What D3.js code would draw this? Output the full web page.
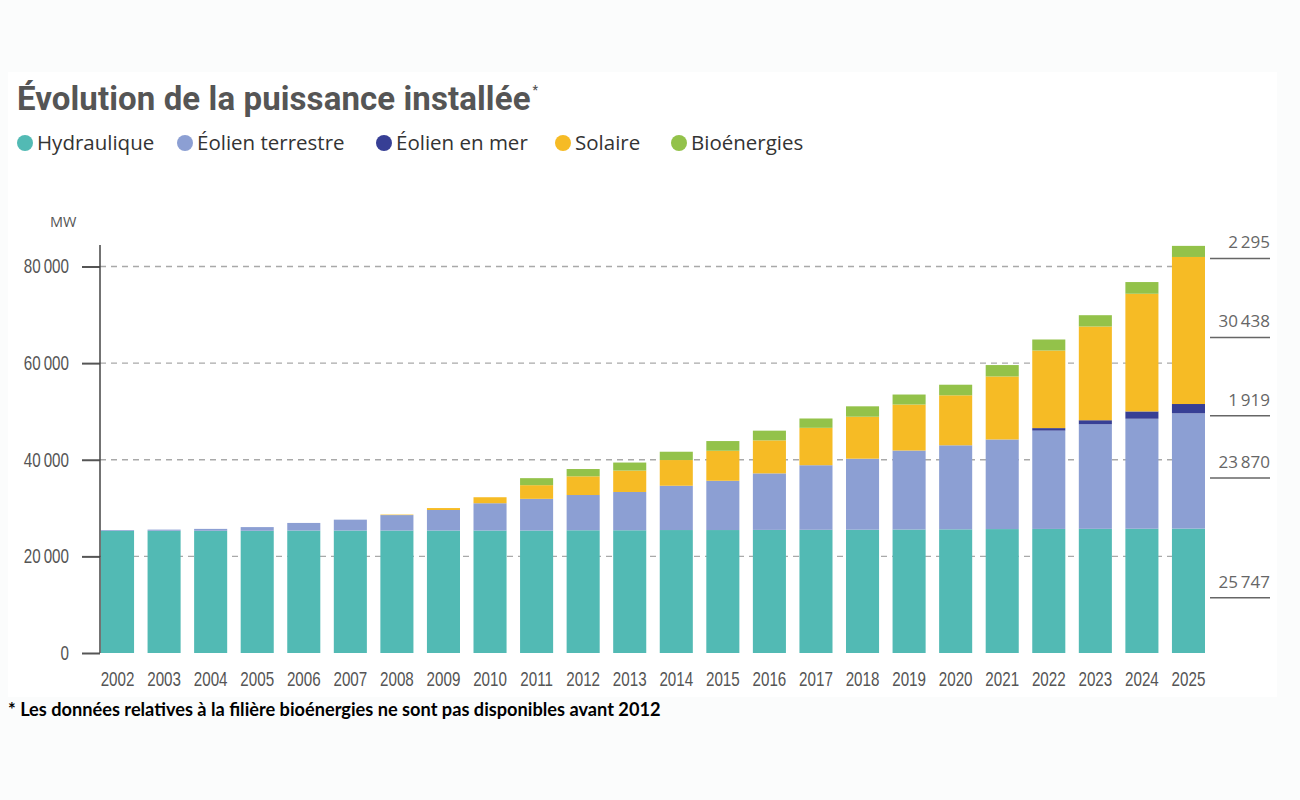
<!DOCTYPE html>
<html><head><meta charset="utf-8">
<script src="https://cdn.jsdelivr.net/npm/d3@7"></script>
<style>
body{margin:0;background:#fbfcfc;}
svg{display:block;}
</style></head>
<body>
<svg id="chart" width="1300" height="800"></svg>
<script>
const years = ["2002","2003","2004","2005","2006","2007","2008","2009","2010","2011","2012","2013","2014","2015","2016","2017","2018","2019","2020","2021","2022","2023","2024","2025"];
const hydraulique = [25300,25300,25300,25300,25350,25350,25350,25350,25350,25350,25400,25400,25450,25450,25480,25500,25520,25560,25600,25650,25680,25700,25720,25747];
const eolienTerrestre = [150,240,390,760,1570,2250,3200,4250,5650,6560,7300,7930,9170,10200,11700,13370,14700,16350,17390,18550,20350,21650,22770,23870];
const eolienMer = [0,0,0,0,0,0,0,0,0,0,0,0,0,0,0,0,0,0,0,0,520,830,1510,1919];
const solaire = [0,0,0,0,0,0,100,400,1240,2830,3870,4430,5320,6210,6830,7740,8690,9520,10350,13040,16060,19400,24360,30438];
const bioenergies = [0,0,0,0,0,0,0,0,0,1450,1510,1660,1720,2010,2010,1930,2150,2070,2190,2360,2280,2340,2420,2295];
const seriesNames = ["Hydraulique","Éolien terrestre","Éolien en mer","Solaire","Bioénergies"];
const seriesKeys = ["hydro","onshore","offshore","solar","bio"];
const seriesColors = ["#52bab4","#8c9fd3","#373f95","#f6bb25","#93c24a"];
const yTicks = [0,20000,40000,60000,80000];

const rows = years.map((y,i)=>({year:y,hydro:hydraulique[i],onshore:eolienTerrestre[i],offshore:eolienMer[i],solar:solaire[i],bio:bioenergies[i]}));
const stack = d3.stack().keys(seriesKeys)(rows);

const svg = d3.select("#chart");
const fmt = v => d3.format(",")(v).replace(/,/g,"\u2009");
const SX = 0.76; // horizontal compression for condensed tick labels

// panel
svg.append("rect").attr("x",8).attr("y",72).attr("width",1269).attr("height",625).attr("fill","#ffffff");

const x = d3.scaleBand().domain(years).range([101,1205]).paddingInner(0.29).paddingOuter(0);
const y = d3.scaleLinear().domain([0,80000]).range([653,266.5]);

// grid
svg.append("g").selectAll("line").data(yTicks.filter(d=>d>0)).join("line")
  .attr("x1",100).attr("x2",1205).attr("y1",d=>y(d)).attr("y2",d=>y(d))
  .attr("stroke","#a9a9a9").attr("stroke-width",1.3).attr("stroke-dasharray","6,5");

// bars
const color = d3.scaleOrdinal().domain(seriesKeys).range(seriesColors);
svg.append("g").selectAll("g").data(stack).join("g").attr("fill",s=>color(s.key))
  .selectAll("rect").data(s=>s).join("rect")
  .attr("x",d=>x(d.data.year)).attr("width",x.bandwidth())
  .attr("y",d=>y(d[1])).attr("height",d=>Math.max(0,y(d[0])-y(d[1])));

// y axis
const yAxis = d3.axisLeft(y).tickValues(yTicks).tickSize(18).tickPadding(13).tickFormat(fmt);
const ga = svg.append("g").attr("transform","translate(100,0)").call(yAxis);
ga.select(".domain").remove();
ga.selectAll(".tick line").attr("stroke","#555").attr("stroke-width",2);
ga.selectAll(".tick text").attr("font-family","Liberation Sans").attr("font-size",20).attr("fill","#555")
  .attr("x",-31/SX).attr("transform",`scale(${SX},1)`);
svg.append("line").attr("x1",100).attr("x2",100).attr("y1",245).attr("y2",653).attr("stroke","#444").attr("stroke-width",1.5);
svg.append("text").attr("x",50).attr("y",227).attr("font-family","Open Sans").attr("font-size",14.5).attr("fill","#555").text("MW");

// x axis
const xAxis = d3.axisBottom(x).tickSize(0).tickPadding(19);
const gx = svg.append("g").attr("transform","translate(0,653)").call(xAxis);
gx.select(".domain").remove();
gx.selectAll(".tick text").attr("font-family","Liberation Sans").attr("font-size",20).attr("fill","#555")
  .attr("transform",`scale(${SX},1)`);

// right annotations for last year
const last = stack.map(s=>s[s.length-1]);
const ann = svg.append("g");
last.forEach((d,i)=>{
  const mid = (y(d[0])+y(d[1]))/2;
  const v = d[1]-d[0];
  ann.append("text").attr("x",1270).attr("y",mid-3).attr("text-anchor","end")
    .attr("font-family","Open Sans").attr("font-size",17).attr("fill","#666").text(fmt(v));
  ann.append("line").attr("x1",1210).attr("x2",1270).attr("y1",mid+7).attr("y2",mid+7)
    .attr("stroke","#666").attr("stroke-width",1.5);
});

// title
const t = svg.append("text").attr("x",17).attr("y",110).attr("font-family","Roboto").attr("font-weight","bold")
  .attr("font-size",33).attr("fill","#555").attr("letter-spacing",0.1).text("Évolution de la puissance installée");
const tw = t.node().getComputedTextLength();
svg.append("text").attr("x",17+tw+2).attr("y",94).attr("font-family","Roboto").attr("font-weight","bold")
  .attr("font-size",12).attr("fill","#555").text("*");

// legend
const legendX = [17,177,376,555,671];
const lg = svg.append("g");
seriesNames.forEach((n,i)=>{
  lg.append("circle").attr("cx",legendX[i]+8).attr("cy",143).attr("r",8).attr("fill",seriesColors[i]);
  lg.append("text").attr("x",legendX[i]+20).attr("y",150).attr("font-family","Open Sans")
    .attr("font-size",20.5).attr("fill","#333").text(n);
});

// footnote
svg.append("text").attr("x",8).attr("y",716).attr("font-family","Lato").attr("font-weight","bold")
  .attr("font-size",18.2).attr("fill","#000").text("* Les données relatives à la filière bioénergies ne sont pas disponibles avant 2012");
</script>
</body></html>
